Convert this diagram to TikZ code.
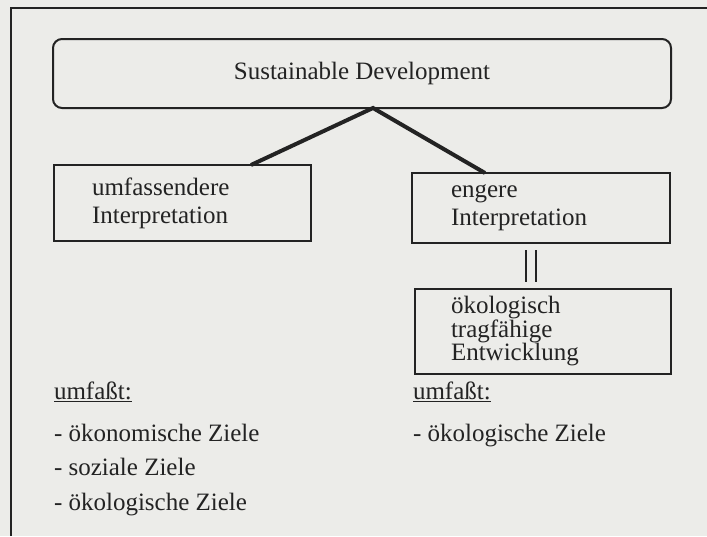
\documentclass[tikz,border=0pt]{standalone}
\usepackage{fontspec}
\setmainfont{Liberation Serif}
\usetikzlibrary{calc}
\definecolor{paper}{RGB}{236,236,233}
\definecolor{ink}{RGB}{35,35,35}
\begin{document}
\begin{tikzpicture}[x=1pt,y=-1pt,
  every node/.style={font=\fontsize{25}{28}\selectfont, text=ink},
  box/.style={draw=ink, line width=2pt, rectangle, align=left, anchor=north west,
    inner ysep=0pt, outer sep=0pt},
  conn/.style={draw=ink, line width=4pt},
  eqline/.style={draw=ink, line width=2.5pt},
  frameline/.style={draw=ink, line width=2.5pt},
  plain/.style={anchor=base west, inner sep=0pt, outer sep=0pt}]
\fill[paper] (0,0) rectangle (707,536);
\useasboundingbox (0,0) rectangle (707,536);
% frame (top and left edges visible)
\draw[frameline] (11,536) -- (11,8) -- (707,8);
% nodes
\node[box, rounded corners=9pt, minimum width=618pt, minimum height=69pt, align=center,
  inner xsep=0pt] (sd) at (53,39) {\raisebox{-3pt}{Sustainable Development}};
\node[box, inner xsep=38pt, text width=181pt, minimum height=76pt] (lbox) at (54,165)
  {umfassendere\\Interpretation};
\node[box, inner xsep=39pt, text width=180pt, minimum height=70pt] (rbox) at (412,173)
  {engere\\Interpretation};
\node[box, inner xsep=36pt, text width=184pt, minimum height=85pt,
  font=\fontsize{25}{23.5}\selectfont] (bbox) at (415,289)
  {ökologisch\\tragfähige\\Entwicklung};
% connectors
\draw[conn] ($(lbox.north west)+(197,0)$) -- ($(sd.south)+(11,0)$) -- ($(rbox.north west)+(73,0)$);
\draw[eqline] ($(rbox.south west)+(114,7)$) -- ($(bbox.north west)+(111,-7)$);
\draw[eqline] ($(rbox.south west)+(124,7)$) -- ($(bbox.north west)+(121,-7)$);
% lists
\node[plain] (lhead) at (54,399) {\underline{umfaßt:}};
\node[plain] (l1) at (54,441) {- ökonomische Ziele};
\node[plain] (l2) at (54,475) {- soziale Ziele};
\node[plain] (l3) at (54,510) {- ökologische Ziele};
\node[plain] (rhead) at (413,399) {\underline{umfaßt:}};
\node[plain] (r1) at (413,441) {- ökologische Ziele};
\end{tikzpicture}
\end{document}
